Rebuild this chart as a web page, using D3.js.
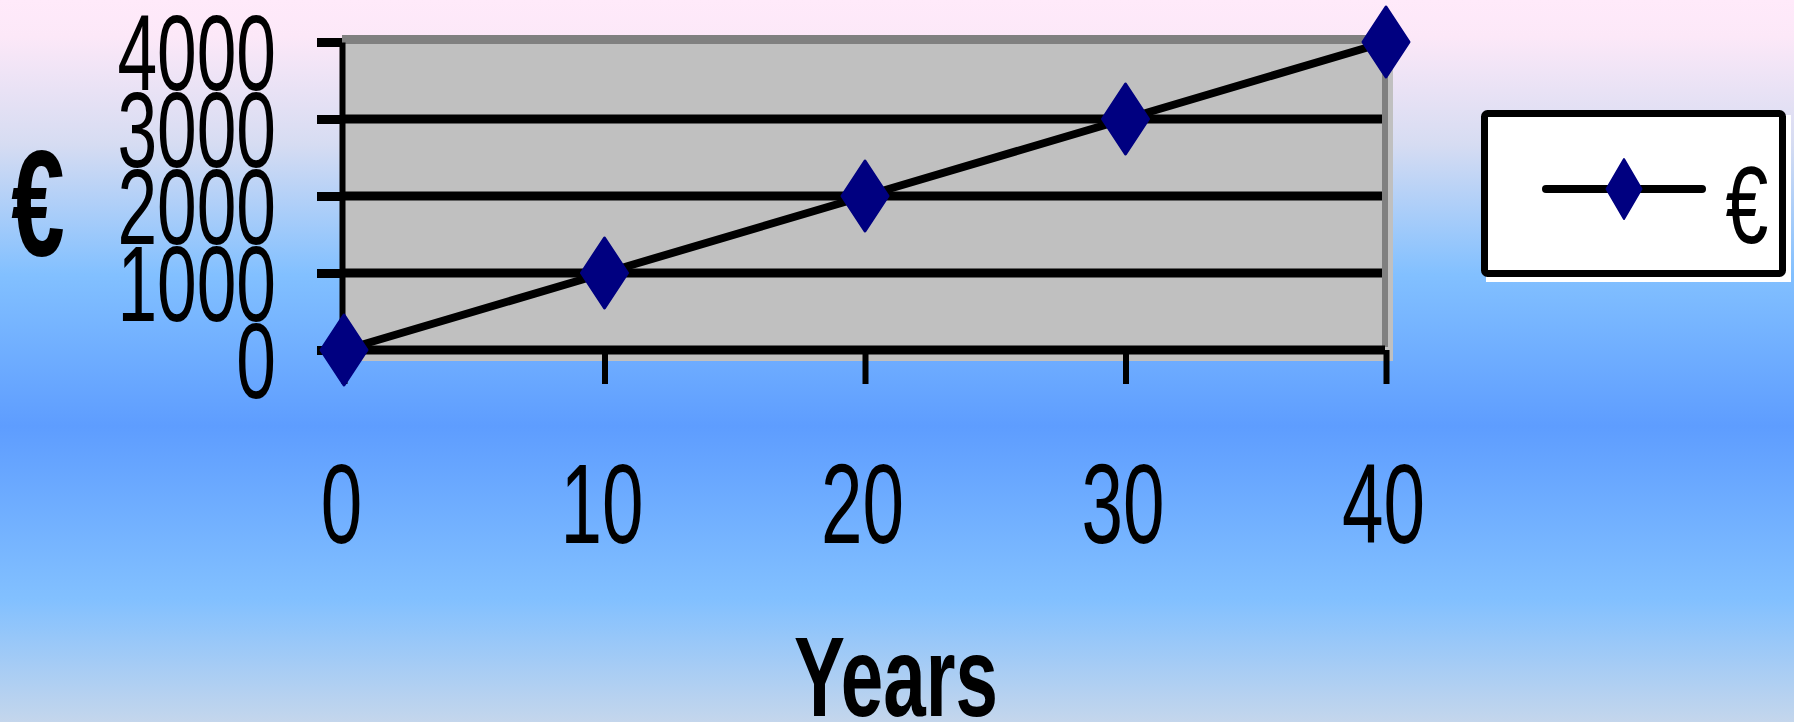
<!DOCTYPE html>
<html>
<head>
<meta charset="utf-8">
<script src="https://cdn.jsdelivr.net/npm/d3@7"></script>
<style>
  html, body { margin: 0; padding: 0; background: #ffffff; }
  svg { display: block; }
  text { font-family: "Liberation Sans", Arial, sans-serif; fill: #000; }
</style>
</head>
<body>
<svg id="chart"></svg>
<script>
// Series: amount in euros after a number of years
const years = [0, 10, 20, 30, 40];
const euros = [0, 1000, 2000, 3000, 4000];

// Axis ticks
const xTicks = [0, 10, 20, 30, 40];
const yTicks = [0, 1000, 2000, 3000, 4000];

// Titles and legend
const xTitle = "Years";
const yTitle = "€";
const seriesName = "€";

const W = 1794, H = 722;
const svg = d3.select("#chart").attr("width", W).attr("height", H);

// Page background: vertical pink-to-blue gradient
const defs = svg.append("defs");
const bg = defs.append("linearGradient")
  .attr("id", "bg").attr("x1", 0).attr("y1", 0).attr("x2", 0).attr("y2", 1);
[
  [0.00, "#ffeafa"],
  [0.05, "#fce8f8"],
  [0.20, "#d6dcf2"],
  [0.38, "#82c0ff"],
  [0.59, "#5e9dff"],
  [0.83, "#82c0ff"],
  [1.00, "#c4d6ec"]
].forEach(([o, c]) => bg.append("stop").attr("offset", o).attr("stop-color", c));
svg.append("rect").attr("width", W).attr("height", H).attr("fill", "url(#bg)");

// Scales
const x = d3.scaleLinear().domain([0, 40]).range([344, 1386]);
const y = d3.scaleLinear().domain([0, 4000]).range([350, 42]);

// Plot area: light grey panel with darker top and right border
const pLeft = x(0) - 2, pRight = x(40) + 7, pTop = y(4000) - 7, pBottom = y(0) + 11;
svg.append("rect")
  .attr("x", pLeft).attr("y", pTop)
  .attr("width", pRight - pLeft).attr("height", pBottom - pTop)
  .attr("fill", "#c0c0c0");
svg.append("rect")
  .attr("x", pLeft).attr("y", pTop)
  .attr("width", x(40) + 2 - pLeft).attr("height", 9)
  .attr("fill", "#808080");
svg.append("rect")
  .attr("x", x(40) - 4).attr("y", pTop)
  .attr("width", 6).attr("height", y(0) - 3 - pTop)
  .attr("fill", "#808080");

// Horizontal gridlines
svg.append("g").selectAll("line")
  .data(yTicks.filter(v => v < 4000))
  .join("line")
  .attr("x1", x(0) - 2)
  .attr("x2", v => v === 0 ? x(40) - 1 : x(40) - 4)
  .attr("y1", v => y(v)).attr("y2", v => y(v))
  .attr("stroke", "#000").attr("stroke-width", 9);

// Y axis
const yAxis = svg.append("g")
  .attr("transform", `translate(${x(0) - 2},0)`)
  .call(d3.axisLeft(y).tickValues(yTicks).tickSizeInner(25).tickSizeOuter(0).tickFormat(d3.format("d")));
yAxis.select(".domain").attr("stroke", "#000").attr("stroke-width", 6);
yAxis.selectAll(".tick line").attr("stroke", "#000").attr("stroke-width", 9);
yAxis.selectAll(".tick text")
  .attr("x", 0).attr("dy", 0).attr("y", 0)
  .attr("text-anchor", "end")
  .attr("font-size", 108)
  .attr("font-family", "'Liberation Sans', Arial, sans-serif")
  .attr("transform", "translate(-66,47) scale(0.66,1)");

// X axis
const xAxis = svg.append("g")
  .attr("transform", `translate(0,${y(0)})`)
  .call(d3.axisBottom(x).tickValues(xTicks).tickSizeInner(34).tickSizeOuter(0).tickFormat(d3.format("d")));
xAxis.select(".domain").remove();
xAxis.selectAll(".tick line").attr("stroke", "#000").attr("stroke-width", 6);
xAxis.selectAll(".tick text")
  .attr("x", 0).attr("y", 0).attr("dy", 0)
  .attr("text-anchor", "middle")
  .attr("font-size", 113)
  .attr("font-family", "'Liberation Sans', Arial, sans-serif")
  .attr("transform", "translate(-3,193) scale(0.66,1)");

// Series line
const pts = years.map((yr, i) => [yr, euros[i]]);
svg.append("path")
  .datum(pts)
  .attr("d", d3.line().x(d => x(d[0])).y(d => y(d[1])))
  .attr("fill", "none").attr("stroke", "#000")
  .attr("stroke-width", 8).attr("stroke-linejoin", "round");

// Elongated diamond marker
function diamond(w, h) {
  const p = d3.path();
  p.moveTo(0, -h / 2); p.lineTo(w / 2, 0); p.lineTo(0, h / 2); p.lineTo(-w / 2, 0); p.closePath();
  return p.toString();
}
svg.append("g").selectAll("path")
  .data(pts)
  .join("path")
  .attr("d", diamond(46, 70))
  .attr("transform", d => `translate(${x(d[0])},${y(d[1])})`)
  .attr("fill", "#000080").attr("stroke", "#000080")
  .attr("stroke-width", 3).attr("stroke-linejoin", "round");

// Axis titles
svg.append("text")
  .attr("text-anchor", "middle")
  .attr("font-size", 114).attr("font-weight", "bold")
  .attr("transform", "translate(896,716) scale(0.67,1)")
  .text(xTitle);
svg.append("text")
  .attr("text-anchor", "middle")
  .attr("font-size", 150).attr("font-weight", "bold")
  .attr("transform", "translate(38,256) scale(0.64,1)")
  .text(yTitle);

// Legend
const lg = svg.append("g");
lg.append("rect")
  .attr("x", 1486).attr("y", 115).attr("width", 305).attr("height", 167)
  .attr("fill", "#ffffff");
lg.append("rect")
  .attr("x", 1484.5).attr("y", 113.5).attr("width", 298).attr("height", 160)
  .attr("rx", 3)
  .attr("fill", "#ffffff").attr("stroke", "#000").attr("stroke-width", 7);
lg.append("line")
  .attr("x1", 1546).attr("x2", 1702).attr("y1", 189).attr("y2", 189)
  .attr("stroke", "#000").attr("stroke-width", 8).attr("stroke-linecap", "round");
lg.append("path")
  .attr("d", diamond(35, 60))
  .attr("transform", "translate(1624,189)")
  .attr("fill", "#000080").attr("stroke", "#000080")
  .attr("stroke-width", 2).attr("stroke-linejoin", "round");
lg.append("text")
  .attr("text-anchor", "middle")
  .attr("font-size", 110)
  .attr("transform", "translate(1747,243) scale(0.7,1)")
  .text(seriesName);
</script>
</body>
</html>
